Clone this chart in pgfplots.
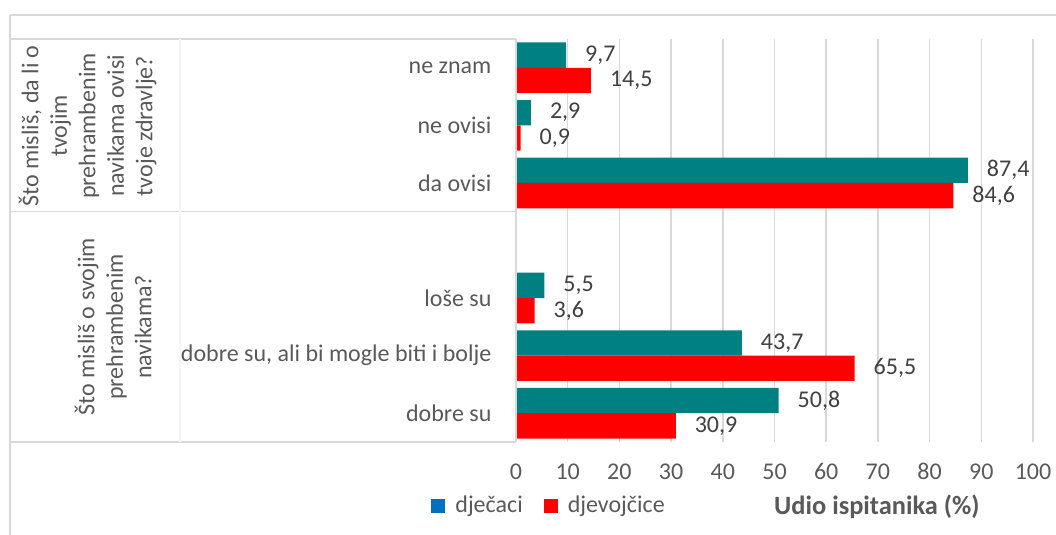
\documentclass[border=0pt]{standalone}
\usepackage{fontspec}
\setmainfont{Carlito}
\usepackage{pgfplots}
\pgfplotsset{compat=1.18}
\definecolor{teal1}{HTML}{008080}
\definecolor{red1}{HTML}{FF0000}
\definecolor{legblue}{HTML}{0070C0}
\definecolor{txt}{HTML}{595959}
\definecolor{lbl}{HTML}{404040}
\definecolor{grd}{HTML}{D9D9D9}
\begin{document}
\begin{tikzpicture}
\path[use as bounding box] (0,0) rectangle (528pt,-267.5pt);
\begin{axis}[
  at={(258pt,-221pt)}, anchor=south west,
  scale only axis, width=258.5pt, height=201.5pt,
  xbar, bar width=0.44,
  xmin=0, xmax=100, ymin=-0.5, ymax=6.5,
  xtick={0,10,...,100},
  ytick={0,1,2,4,5,6},
  yticklabels={dobre su, {dobre su, ali bi mogle biti i bolje}, loše su, da ovisi, ne ovisi, ne znam},
  xmajorgrids, major grid style={grd, line width=0.75pt},
  axis line style={draw=none}, major tick style={draw=none},
  tick label style={font=\fontsize{12}{14}\selectfont, text=txt},
  xticklabel style={anchor=base, yshift=-18.8pt},
  yticklabel style={anchor=east, xshift=-4.5pt},
  /pgf/number format/assume math mode=true,
  clip=false,
  nodes near coords={\fontsize{12}{14}\selectfont\color{lbl}\hspace*{6pt}\pgfmathprintnumber[fixed,precision=1,fixed zerofill,use comma,assume math mode=true]{\pgfplotspointmeta}},
  nodes near coords style={anchor=west},
  xlabel={Udio ispitanika (\%)},
  xlabel style={at={(0.698,-0.161)}, anchor=center, font=\fontsize{13.2}{15}\selectfont\bfseries, text=txt},
  legend columns=2,
  legend style={draw=none, fill=none, inner sep=0pt, at={(-0.1644,-0.1588)}, anchor=west,
    font=\fontsize{12}{14}\selectfont, text=txt, nodes={inner sep=0pt, anchor=west},
    /tikz/every odd column/.append style={column sep=5pt},
    /tikz/every even column/.append style={column sep=10.5pt}},
]
\addplot[fill=teal1, draw=none, bar shift=0.22,
  legend image code/.code={\fill[legblue] (0pt,-3.5pt) rectangle (7pt,3.5pt);}]
  coordinates {(50.8,0) (43.7,1) (5.5,2) (87.4,4) (2.9,5) (9.7,6)};
\addlegendentry{dječaci}
\addplot[fill=red1, draw=none, bar shift=-0.22,
  legend image code/.code={\fill[red1] (0pt,-3.5pt) rectangle (7pt,3.5pt);}]
  coordinates {(30.9,0) (65.5,1) (3.6,2) (84.6,4) (0.9,5) (14.5,6)};
\addlegendentry{djevojčice}
\end{axis}
\draw[grd, line width=0.75pt] (5pt,-7.5pt) -- (528pt,-7.5pt);
\draw[grd, line width=0.75pt] (5pt,-7.5pt) -- (5pt,-267.5pt);
\draw[grd, line width=0.75pt] (5pt,-19.5pt) -- (258pt,-19.5pt);
\draw[grd, line width=0.75pt] (5pt,-105.8pt) -- (258pt,-105.8pt);
\draw[grd, line width=0.75pt] (5pt,-221pt) -- (258pt,-221pt);
\draw[grd, line width=0.75pt] (258pt,-19.5pt) -- (258pt,-221pt);
\draw[grd!25, line width=0.75pt] (90pt,-19.5pt) -- (90pt,-221pt);
\node[rotate=90, anchor=south, align=center, inner sep=0pt, text=txt,
  font=\fontsize{12}{14.25}\selectfont] at (78.5pt,-63pt)
  {Što misliš, da li o\\tvojim\\prehrambenim\\navikama ovisi\\tvoje zdravlje?};
\node[rotate=90, anchor=south, align=center, inner sep=0pt, text=txt,
  font=\fontsize{12}{14.25}\selectfont] at (76pt,-163.5pt)
  {Što misliš o svojim\\prehrambenim\\navikama?};
\end{tikzpicture}
\end{document}
